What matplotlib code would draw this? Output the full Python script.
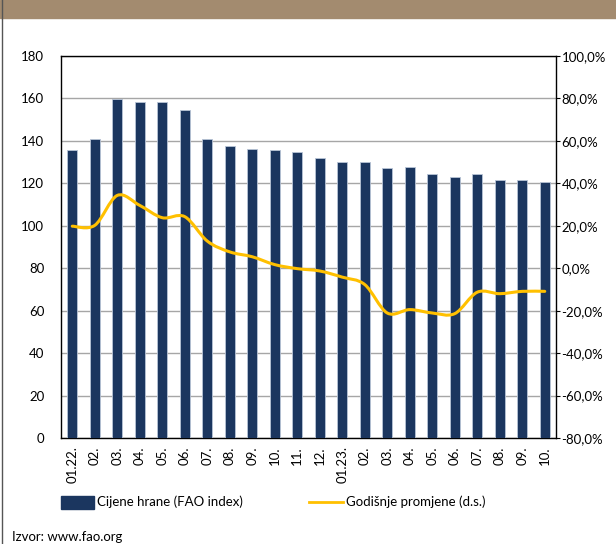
import matplotlib
matplotlib.use("Agg")
import matplotlib.pyplot as plt
import numpy as np
from matplotlib.path import Path
from matplotlib.patches import PathPatch, Rectangle
from matplotlib.lines import Line2D

plt.rcParams['font.family'] = ['Lato', 'DejaVu Sans']

labels = ["01.22.", "02.", "03.", "04.", "05.", "06.", "07.", "08.", "09.", "10.", "11.", "12.",
          "01.23.", "02.", "03.", "04.", "05.", "06.", "07.", "08.", "09.", "10."]
fao_index = [135.7, 141.1, 159.7, 158.2, 158.2, 154.7, 140.8, 137.8, 136.3, 135.6, 135.0, 132.1,
             130.1, 130.0, 127.1, 127.9, 124.4, 123.0, 124.4, 121.6, 121.5, 120.8]
yoy_change = [19.8, 20.2, 34.3, 29.6, 23.8, 24.3, 12.8, 7.7, 5.4, 1.7, -0.2, -1.3,
              -4.2, -7.7, -21.1, -19.5, -21.1, -21.4, -11.3, -12.0, -10.9, -10.9]

W, H = 616, 544
fig = plt.figure(figsize=(W / 100, H / 100), dpi=100)

# header band and frame
fig.patches.append(Rectangle((0, 1 - 18 / H), 1, 18 / H, transform=fig.transFigure,
                             color="#A38B6F", zorder=0))
fig.lines.append(Line2D([2.5 / W, 2.5 / W], [0, 1], transform=fig.transFigure,
                        color="#555555", lw=1.0))

ax = fig.add_axes([61 / W, 1 - 438 / H, (556 - 61) / W, (438 - 56) / H])
x = np.arange(len(labels))
ax.bar(x, fao_index, width=0.44, color="#1B365F", edgecolor="#B8C4D6", linewidth=0.6, zorder=3)
ax.set_ylim(0, 180)
ax.set_yticks(np.arange(0, 181, 20))
ax.set_xlim(-0.5, len(labels) - 0.5)
ax.set_xticks(x)
ax.set_xticklabels(labels, rotation=90, fontsize=9.5, va="top")
ax.tick_params(axis="x", length=0, pad=6)
ax.tick_params(axis="y", length=0, pad=12, labelsize=9.5)
ax.grid(axis="y", color="#A6A6A6", lw=1.0, zorder=0)
for s in ax.spines.values():
    s.set_color("black")
    s.set_linewidth(1.0)

ax2 = ax.twinx()
ax2.set_ylim(-80, 100)
ax2.set_yticks(np.arange(-80, 101, 20))
ax2.set_yticklabels([f"{v:.1f}%".replace(".", ",") for v in np.arange(-80, 101, 20)], fontsize=9.5)
ax2.tick_params(axis="y", length=3, pad=1)
for s in ax2.spines.values():
    s.set_visible(False)

# smoothed line (Catmull-Rom style Bezier through the data points)
xs = x.astype(float)
ys = np.array(yoy_change, dtype=float)
verts = [(xs[0], ys[0])]
codes = [Path.MOVETO]
t = 1 / 6
for i in range(len(xs) - 1):
    p0 = (xs[i - 1], ys[i - 1]) if i > 0 else (xs[i], ys[i])
    p1 = (xs[i], ys[i])
    p2 = (xs[i + 1], ys[i + 1])
    p3 = (xs[i + 2], ys[i + 2]) if i + 2 < len(xs) else p2
    c1 = (p1[0] + (p2[0] - p0[0]) * t, p1[1] + (p2[1] - p0[1]) * t)
    c2 = (p2[0] - (p3[0] - p1[0]) * t, p2[1] - (p3[1] - p1[1]) * t)
    verts += [c1, c2, p2]
    codes += [Path.CURVE4] * 3
ax2.add_patch(PathPatch(Path(verts, codes), facecolor="none", edgecolor="#FFC000",
                        lw=2.2, zorder=5, capstyle="round"))

# legend
fig.patches.append(Rectangle((61 / W, 1 - 509 / H), 33 / W, 13 / H, transform=fig.transFigure,
                             color="#1B365F"))
fig.text(97 / W, 1 - 502 / H, "Cijene hrane (FAO index)", fontsize=9.5, va="center", ha="left")
fig.lines.append(Line2D([309 / W, 343 / W], [1 - 502 / H, 1 - 502 / H], transform=fig.transFigure,
                        color="#FFC000", lw=2))
fig.text(346 / W, 1 - 502 / H, "Godišnje promjene (d.s.)", fontsize=9.5, va="center", ha="left")
fig.text(12 / W, 1 - 537 / H, "Izvor: www.fao.org", fontsize=9.5, va="center", ha="left")

fig.savefig("out.png", dpi=100)
